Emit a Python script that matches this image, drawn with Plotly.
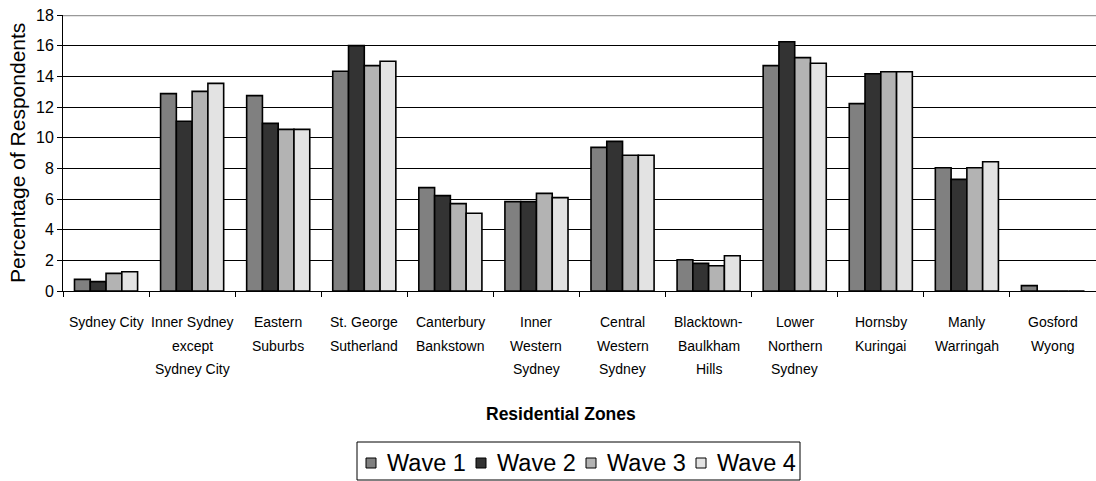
import plotly.graph_objects as go

# Residential zones (line breaks as shown under the axis)
zones = [
    "Sydney City",
    "Inner Sydney<br>except<br>Sydney City",
    "Eastern<br>Suburbs",
    "St. George<br>Sutherland",
    "Canterbury<br>Bankstown",
    "Inner<br>Western<br>Sydney",
    "Central<br>Western<br>Sydney",
    "Blacktown-<br>Baulkham<br>Hills",
    "Lower<br>Northern<br>Sydney",
    "Hornsby<br>Kuringai",
    "Manly<br>Warringah",
    "Gosford<br>Wyong",
]

wave1 = [0.76, 12.87, 12.74, 14.33, 6.74, 5.83, 9.37, 2.04, 14.70, 12.22, 8.04, 0.35]
wave2 = [0.61, 11.07, 10.93, 16.00, 6.22, 5.83, 9.76, 1.80, 16.26, 14.17, 7.28, 0.0]
wave3 = [1.15, 13.02, 10.54, 14.70, 5.70, 6.37, 8.85, 1.65, 15.22, 14.30, 8.04, 0.0]
wave4 = [1.26, 13.54, 10.54, 14.98, 5.07, 6.09, 8.85, 2.30, 14.85, 14.30, 8.43, 0.0]

series_names = ["Wave 1", "Wave 2", "Wave 3", "Wave 4"]
series_values = [wave1, wave2, wave3, wave4]
series_colors = ["#808080", "#333333", "#b3b3b3", "#e3e3e3"]

y_ticks = list(range(0, 19, 2))

FONT = "Arial"

W, H = 1096, 481
ML, MR, MT, MB = 63, 0, 15, 190
plot_w = W - ML - MR
plot_h = H - MT - MB


def px(x):
    """page pixel column -> paper x"""
    return (x - ML) / plot_w


def py(y):
    """page pixel row -> paper y"""
    return (H - MB - y) / plot_h


fig = go.Figure()
for name, vals, col in zip(series_names, series_values, series_colors):
    fig.add_trace(go.Bar(
        name=name,
        x=zones,
        y=vals,
        marker=dict(color=col, line=dict(color="black", width=1.6)),
        showlegend=False,
    ))

# multi-line category labels, one annotation per text line
annotations = []
for z in zones:
    for i, line in enumerate(z.split("<br>")):
        annotations.append(dict(
            x=z, xref="x", y=0, yref="paper",
            text=line, showarrow=False,
            xanchor="center", yanchor="middle",
            yshift=-(31 + i * 23.5),
            font=dict(family=FONT, size=14, color="black"),
        ))

# axis titles
annotations.append(dict(
    x=px(17), xref="paper", y=0.5, yref="paper",
    text="Percentage of Respondents", textangle=-90, showarrow=False,
    xanchor="center", yanchor="middle",
    font=dict(family=FONT, size=21, color="black"),
))
annotations.append(dict(
    x=px(561), xref="paper", y=py(414), yref="paper",
    text="<b>Residential Zones</b>", showarrow=False,
    xanchor="center", yanchor="middle",
    font=dict(family=FONT, size=17.5, color="black"),
))

# boxed legend row underneath the chart
shapes = [
    dict(type="line", xref="paper", x0=0, x1=1, yref="y", y0=18, y1=18,
         line=dict(color="#999999", width=2.5), layer="above"),
    dict(type="rect", xref="paper", yref="paper",
         x0=px(357), x1=px(800), y0=py(480), y1=py(442),
         line=dict(color="black", width=1), fillcolor="white"),
]
LEG_X0, LEG_STEP, LEG_YC = 366, 110, 463
for i, (name, col) in enumerate(zip(series_names, series_colors)):
    sx = LEG_X0 + i * LEG_STEP
    shapes.append(dict(
        type="rect", xref="paper", yref="paper",
        x0=px(sx), x1=px(sx + 10), y0=py(LEG_YC + 5), y1=py(LEG_YC - 5),
        line=dict(color="black", width=1), fillcolor=col,
    ))
    annotations.append(dict(
        x=px(sx + 19), xref="paper", y=py(LEG_YC), yref="paper",
        text=name, showarrow=False, xanchor="left", yanchor="middle",
        font=dict(family=FONT, size=23.5, color="black"),
    ))

fig.update_layout(
    width=W, height=H,
    margin=dict(l=ML, r=MR, t=MT, b=MB, pad=0),
    paper_bgcolor="white", plot_bgcolor="white",
    barmode="group", bargap=0.267, bargroupgap=0,
    showlegend=False,
    annotations=annotations,
    shapes=shapes,
    xaxis=dict(
        showticklabels=False,
        ticks="outside", tickson="boundaries", ticklen=5, tickcolor="black",
        showline=True, linecolor="black", linewidth=1,
        showgrid=False,
    ),
    yaxis=dict(
        range=[0, 18], tickvals=y_ticks,
        ticks="outside", ticklen=5, tickcolor="black",
        showline=True, linecolor="black", linewidth=1,
        showgrid=True, gridcolor="black", gridwidth=1,
        zeroline=False,
        tickfont=dict(family=FONT, size=16, color="black"),
    ),
)

fig.write_html("out.html")
